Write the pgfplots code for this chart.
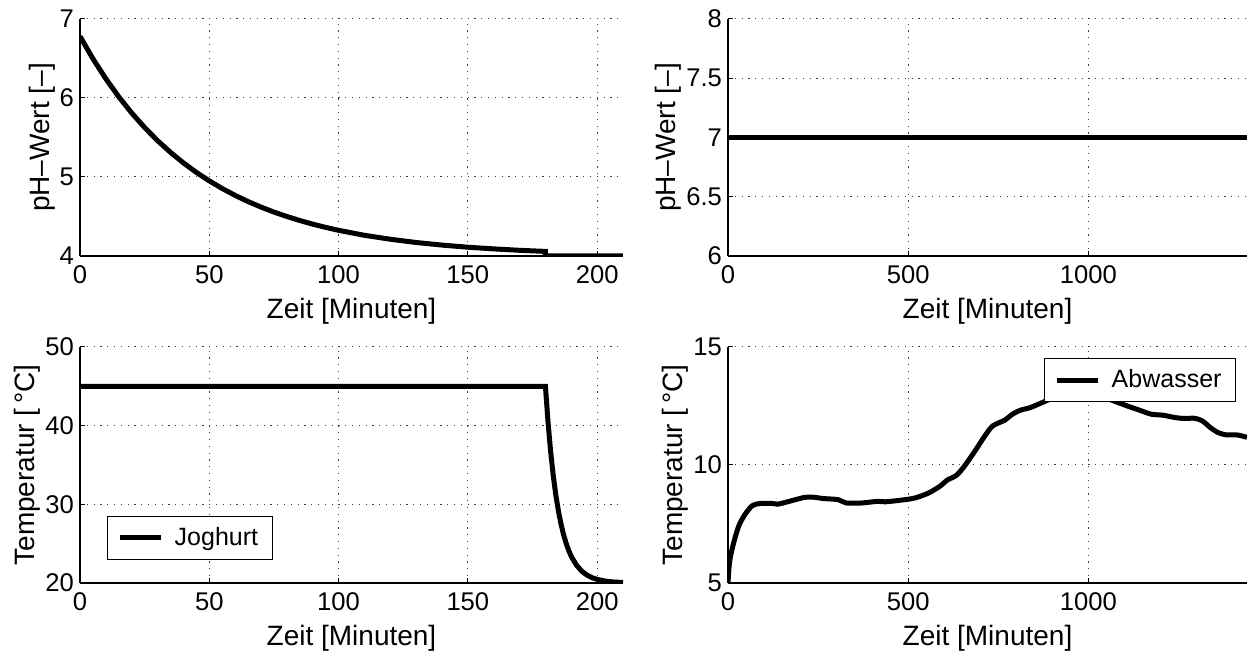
\documentclass[border=0pt]{standalone}
\usepackage{fontspec}
\setmainfont{Liberation Sans}
\usepackage{pgfplots}
\pgfplotsset{compat=1.18}
\begin{document}
\begin{tikzpicture}
\path[use as bounding box] (0pt,0pt) rectangle (624.5pt,326pt);
\pgfplotsset{
  every axis/.append style={
    scale only axis,
    anchor=south west,
    axis lines*=left,
    axis line style={-, line width=0.6pt, black},
    grid=major,
    major grid style={line width=0.5pt, black!75, dash pattern=on 0.6pt off 2.8pt},
    tick align=inside,
    major tick length=2.5pt,
    tick style={line width=0.5pt, black},
    tick label style={font=\fontsize{12.8}{14}\selectfont},
    xticklabel style={yshift=-1.5pt},
    yticklabel style={xshift=0.5pt},
    label style={font=\fontsize{14}{16}\selectfont},
    xlabel style={yshift=0pt},
    ylabel style={yshift=-4.5pt},
    /pgf/number format/assume math mode=true,
    /pgf/number format/1000 sep={},
    legend style={draw=black, line width=0.6pt, font=\fontsize{12.5}{14}\selectfont,
      inner xsep=5pt, inner ysep=3.5pt},
    legend image code/.code={\draw[#1] (0pt,0pt) -- (20.5pt,0pt); \path (24pt,0pt);},
  },
}
% top left
\begin{axis}[at={(40pt,198pt)}, width=271.5pt, height=118.5pt,
  xmin=0, xmax=210, ymin=4, ymax=7,
  xtick={0,50,100,150,200}, ytick={4,5,6,7},
  xlabel={Zeit [Minuten]}, ylabel={pH–Wert [–]}]
\addplot[black, line width=2.5pt] coordinates {(0,6.78)(5,6.497)(10,6.243)(15,6.015)(20,5.810)(25,5.626)(30,5.460)(35,5.312)(40,5.178)(45,5.058)(50,4.951)(55,4.854)(60,4.767)(65,4.689)(70,4.619)(75,4.556)(80,4.500)(85,4.449)(90,4.403)(95,4.362)(100,4.325)(110,4.262)(120,4.212)(130,4.171)(140,4.138)(150,4.111)(160,4.090)(170,4.072)(180,4.058)(180.01,4.0)(210,4.0)};
\end{axis}
% top right
\begin{axis}[at={(364pt,198pt)}, width=259.5pt, height=118.5pt,
  xmin=0, xmax=1440, ymin=6, ymax=8,
  xtick={0,500,1000}, ytick={6,6.5,7,7.5,8},
  xlabel={Zeit [Minuten]}, ylabel={pH–Wert [–]}]
\addplot[black, line width=2.5pt] coordinates {(0,7)(1440,7)};
\end{axis}
% bottom left
\begin{axis}[at={(40pt,34.5pt)}, width=271.5pt, height=118pt,
  xmin=0, xmax=210, ymin=20, ymax=50,
  xtick={0,50,100,150,200}, ytick={20,30,40,50},
  xlabel={Zeit [Minuten]}, ylabel={Temperatur [\,°C]},
  legend style={at={(axis description cs:0.05,0.097)}, anchor=south west}]
\addplot[black, line width=2.5pt] coordinates {(0,45)(180,45)(181,40.47)(182,36.76)(183,33.72)(184,31.23)(185,29.20)(186,27.53)(187,26.17)(188,25.05)(189,24.13)(190,23.38)(192,22.27)(194,21.52)(196,21.02)(198,20.68)(200,20.46)(203,20.25)(206,20.14)(210,20.06)};
\addlegendentry{Joghurt}
\end{axis}
% bottom right
\begin{axis}[at={(364pt,34.5pt)}, width=259.5pt, height=118pt,
  xmin=0, xmax=1440, ymin=5, ymax=15,
  xtick={0,500,1000}, ytick={5,10,15},
  xlabel={Zeit [Minuten]}, ylabel={Temperatur [\,°C]},
  legend style={at={(axis description cs:0.979,0.953)}, anchor=north east}]
\addplot[black, line width=2.5pt, smooth] coordinates {(0,5.0)(4,5.84)(13,6.54)(29,7.38)(46,7.88)(67,8.27)(89,8.37)(122,8.37)(138,8.34)(165,8.44)(187,8.53)(214,8.63)(241,8.63)(263,8.58)(306,8.53)(328,8.39)(371,8.39)(415,8.46)(436,8.44)(480,8.51)(518,8.60)(556,8.81)(588,9.10)(610,9.38)(632,9.54)(654,9.91)(686,10.61)(713,11.24)(735,11.66)(768,11.90)(789,12.15)(811,12.32)(838,12.43)(871,12.64)(903,12.85)(925,12.99)(947,12.92)(974,12.95)(1001,13.09)(1023,13.06)(1055,12.81)(1099,12.55)(1142,12.32)(1175,12.15)(1207,12.11)(1240,12.01)(1267,11.97)(1294,11.98)(1316,11.87)(1338,11.59)(1359,11.38)(1381,11.28)(1414,11.27)(1440,11.17)};
\addlegendentry{Abwasser}
\end{axis}
\end{tikzpicture}
\end{document}
